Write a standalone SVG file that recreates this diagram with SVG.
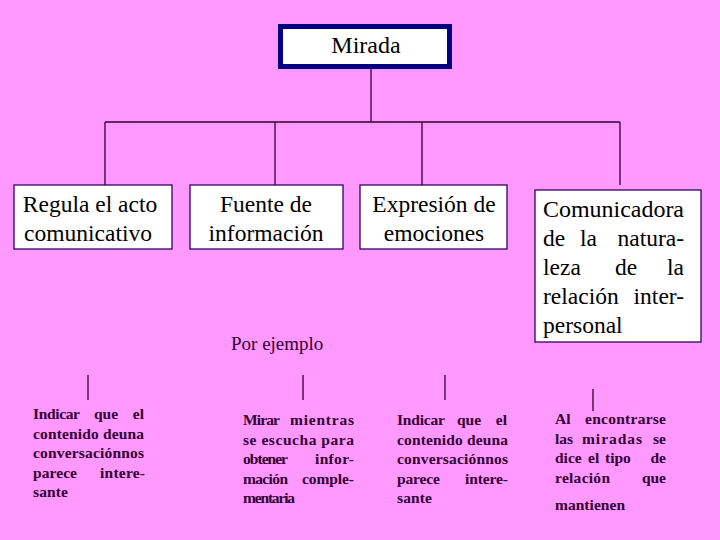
<svg xmlns="http://www.w3.org/2000/svg" width="720" height="540" viewBox="0 0 720 540">
<style>
.bg{fill:#FF99FF}
.box{fill:#FFFFFF;stroke:#330066;stroke-width:1.3}
.top{fill:#FFFFFF;stroke:#000080;stroke-width:5}
.bt{font-size:23.5px;fill:#000000}
.sm{font-size:15.5px;font-weight:bold;fill:#330033}
.pe{font-size:19px;fill:#330033}
.e{text-anchor:end}
.ln{stroke:#330033;stroke-width:1.3;fill:none}
</style>
<rect class="bg" x="0" y="0" width="720" height="540"/>
<g id="connectors">
<path class="ln" d="M371 68V122M105 122H620M105 122V185M275 122V185M422 122V185M620 122V185"/>
<path class="ln" d="M88 375V400M303 375V400M445 375V400M593 389V411"/>
</g>
<g font-family="Liberation Serif, Times New Roman, Times, serif">
<g id="n-mirada">
<rect class="top" x="280.5" y="26.5" width="169" height="40"/>
<text class="bt" x="366" y="53" text-anchor="middle" style="font-size:24px">Mirada</text>
</g>
<g id="n-regula">
<rect class="box" x="14" y="185" width="158" height="64"/>
<text class="bt" x="90" y="212" text-anchor="middle">Regula el acto</text>
<text class="bt" x="88" y="241" text-anchor="middle">comunicativo</text>
</g>
<g id="n-fuente">
<rect class="box" x="190" y="185" width="153" height="64"/>
<text class="bt" x="266" y="212" text-anchor="middle">Fuente de</text>
<text class="bt" x="266" y="241" text-anchor="middle">información</text>
</g>
<g id="n-expresion">
<rect class="box" x="360" y="185" width="147" height="64"/>
<text class="bt" x="434" y="212" text-anchor="middle">Expresión de</text>
<text class="bt" x="434" y="241" text-anchor="middle">emociones</text>
</g>
<g id="n-comunicadora">
<rect class="box" x="535" y="190" width="166" height="152"/>
<text class="bt" x="543" y="217" textLength="141" lengthAdjust="spacingAndGlyphs">Comunicadora</text>
<text class="bt" x="543" y="246">de</text><text class="bt" x="580" y="246">la</text><text class="bt e" x="684" y="246">natura-</text>
<text class="bt" x="543" y="275">leza</text><text class="bt" x="615" y="275">de</text><text class="bt e" x="684" y="275">la</text>
<text class="bt" x="543" y="304">relación</text><text class="bt e" x="684" y="304">inter-</text>
<text class="bt" x="543" y="333">personal</text>
</g>
<g id="n-porejemplo">
<text class="pe" x="231" y="350">Por ejemplo</text>
</g>
<g id="n-ej1">
<text class="sm" x="33" y="419" textLength="47" lengthAdjust="spacing">Indicar</text>
<text class="sm" x="94" y="419">que</text>
<text class="sm e" x="144" y="419">el</text>
<text class="sm" x="33" y="438.5" textLength="111" lengthAdjust="spacing">contenido deuna</text>
<text class="sm" x="33" y="458" textLength="111" lengthAdjust="spacing">conversaciónnos</text>
<text class="sm" x="33" y="477.5" textLength="44" lengthAdjust="spacing">parece</text>
<text class="sm" x="100" y="477.5" textLength="45" lengthAdjust="spacing">intere-</text>
<text class="sm" x="33" y="497" textLength="35" lengthAdjust="spacing">sante</text>
</g>
<g id="n-ej2">
<text class="sm" x="243" y="425" textLength="37" lengthAdjust="spacing">Mirar</text>
<text class="sm" x="290" y="425" textLength="64" lengthAdjust="spacing">mientras</text>
<text class="sm" x="243" y="444.5" textLength="111" lengthAdjust="spacing">se escucha para</text>
<text class="sm" x="243" y="464" textLength="45" lengthAdjust="spacing">obtener</text>
<text class="sm" x="315" y="464" textLength="39" lengthAdjust="spacing">infor-</text>
<text class="sm" x="243" y="483.5" textLength="45" lengthAdjust="spacing">mación</text>
<text class="sm" x="302" y="483.5" textLength="52" lengthAdjust="spacing">comple-</text>
<text class="sm" x="243" y="503" textLength="52" lengthAdjust="spacing">mentaria</text>
</g>
<g id="n-ej3">
<text class="sm" x="397" y="425" textLength="48" lengthAdjust="spacing">Indicar</text>
<text class="sm" x="457" y="425">que</text>
<text class="sm e" x="507" y="425">el</text>
<text class="sm" x="397" y="444.5" textLength="111" lengthAdjust="spacing">contenido deuna</text>
<text class="sm" x="397" y="464" textLength="111" lengthAdjust="spacing">conversaciónnos</text>
<text class="sm" x="397" y="483.5" textLength="43" lengthAdjust="spacing">parece</text>
<text class="sm" x="465" y="483.5" textLength="43" lengthAdjust="spacing">intere-</text>
<text class="sm" x="397" y="503" textLength="35" lengthAdjust="spacing">sante</text>
</g>
<g id="n-ej4">
<text class="sm" x="555" y="424">Al</text>
<text class="sm" x="585" y="424" textLength="81" lengthAdjust="spacing">encontrarse</text>
<text class="sm" x="555" y="443.5">las</text>
<text class="sm" x="582" y="443.5" textLength="60" lengthAdjust="spacing">miradas</text>
<text class="sm e" x="666" y="443.5">se</text>
<text class="sm" x="555" y="463">dice</text>
<text class="sm" x="588" y="463">el</text>
<text class="sm" x="605" y="463">tipo</text>
<text class="sm e" x="666" y="463">de</text>
<text class="sm" x="555" y="482.5" textLength="55" lengthAdjust="spacing">relación</text>
<text class="sm e" x="666" y="482.5">que</text>
<text class="sm" x="555" y="510" textLength="70" lengthAdjust="spacing">mantienen</text>
</g>
</g>
</svg>
